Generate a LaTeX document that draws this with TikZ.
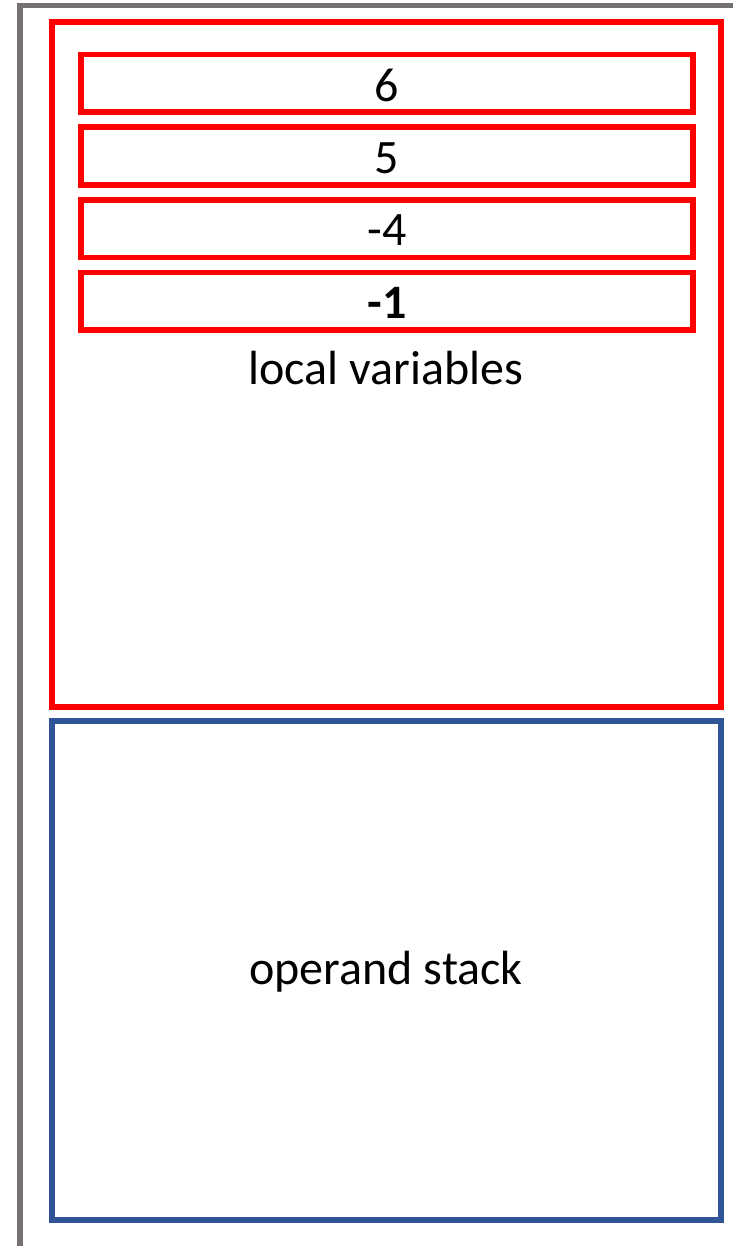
\documentclass[tikz,border=0pt]{standalone}
\usepackage{fontspec}
\setmainfont{Carlito}
\begin{document}
\begin{tikzpicture}[x=0.75pt,y=0.75pt,yscale=-1,xscale=1]
%set diagram size
\useasboundingbox (0,0) rectangle (733,1246);

%Straight Lines: frame edge
\draw [color={rgb, 255:red, 118; green, 113; blue, 113 }, line width=4.2]  (20,1246) -- (20,5.5) -- (733,5.5) ;
%Shape: Rectangle (local variables)
\draw [color={rgb, 255:red, 255; green, 0; blue, 0 }, line width=4.2]  (52,22) -- (721,22) -- (721,707) -- (52,707) -- cycle ;
%Shape: Rectangle (operand stack)
\draw [color={rgb, 255:red, 47; green, 85; blue, 151 }, line width=4.2]  (52,721) -- (721,721) -- (721,1220) -- (52,1220) -- cycle ;

%Shape: Rectangle
\draw [color={rgb, 255:red, 255; green, 0; blue, 0 }, line width=4.2]  (81,54.5) -- (693,54.5) -- (693,112) -- (81,112) -- cycle ;
%Shape: Rectangle
\draw [color={rgb, 255:red, 255; green, 0; blue, 0 }, line width=4.2]  (81,127.2) -- (693,127.2) -- (693,184.7) -- (81,184.7) -- cycle ;
%Shape: Rectangle
\draw [color={rgb, 255:red, 255; green, 0; blue, 0 }, line width=4.2]  (81,199.8) -- (693,199.8) -- (693,257.3) -- (81,257.3) -- cycle ;
%Shape: Rectangle
\draw [color={rgb, 255:red, 255; green, 0; blue, 0 }, line width=4.2]  (81,272.5) -- (693,272.5) -- (693,330) -- (81,330) -- cycle ;

% Text Node
\draw (387,85) node (slot0) [inner sep=0.75pt] [align=left] {\fontsize{36}{42}\selectfont 6};
% Text Node
\draw (387,158) node (slot1) [inner sep=0.75pt] [align=left] {\fontsize{36}{42}\selectfont 5};
% Text Node
\draw (387,230.5) node (slot2) [inner sep=0.75pt] [align=left] {\fontsize{36}{42}\selectfont -4};
% Text Node
\draw (387,303) node (slot3) [inner sep=0.75pt] [align=left] {\fontsize{36}{42}\selectfont\bfseries -1};
% Text Node
\draw (386,368) node (locals) [inner sep=0.75pt] [align=left] {\fontsize{36}{42}\selectfont local variables};
% Text Node
\draw (386,972) node (operands) [inner sep=0.75pt] [align=left] {\fontsize{36}{42}\selectfont operand stack};

\end{tikzpicture}
\end{document}
